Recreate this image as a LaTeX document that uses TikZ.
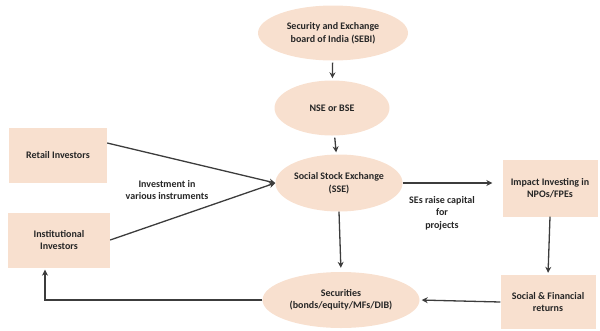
\documentclass[tikz,border=0pt]{standalone}
\usepackage{fontspec}
\setmainfont{Carlito}
\usepackage{tikz}
\usetikzlibrary{shapes,arrows.meta,positioning,calc}
\definecolor{peach}{RGB}{248,224,207}
\definecolor{linegray}{RGB}{60,60,60}

\begin{document}
\begin{tikzpicture}[
    x=1pt, y=-1pt,
    every node/.style = {font=\fontsize{10}{12.5}\selectfont\bfseries, text=black!85, align=center},
    oval/.style = {ellipse, fill=peach, inner sep=0pt},
    panel/.style = {rectangle, fill=peach, inner sep=0pt},
    link/.style = {draw=linegray, line width=1.3pt, -{Stealth[length=6pt,width=6pt]}}
  ]
  \useasboundingbox (0,0) rectangle (600,330);
  \node[oval, minimum width=150, minimum height=55] (sebi) at (333,33) {Security and Exchange\\board of India (SEBI)};
  \node[oval, minimum width=115, minimum height=55] (nse) at (332,108) {NSE or BSE};
  \node[oval, minimum width=124, minimum height=57] (sse) at (339,183) {Social Stock Exchange\\(SSE)};
  \node[oval, minimum width=157, minimum height=56] (sec) at (341,300) {Securities\\(bonds/equity/MFs/DIB)};
  \node[panel, minimum width=98, minimum height=55] (retail) at (58,155) {Retail Investors};
  \node[panel, minimum width=102, minimum height=55] (inst) at (59,240) {Institutional\\Investors};
  \node[panel, minimum width=95, minimum height=57] (impact) at (550,188) {Impact Investing in\\NPOs/FPEs};
  \node[panel, minimum width=95, minimum height=54] (returns) at (548,302) {Social \& Financial\\returns};
  \node[draw=none] (invest) at (167,190) {Investment in\\various instruments};
  \node[draw=none] (raise) at (442,213) {SEs raise capital\\for\\projects};
  % arrows
  \draw[link, shorten <=2pt, shorten >=2pt] (sebi) -- (nse);
  \draw[link, shorten <=2pt, shorten >=2pt] (nse) -- (sse);
  \draw[link] ([yshift=12pt]retail.east) -- (sse.west);
  \draw[link] (inst.east) -- (sse.west);
  \draw[link, shorten >=10pt] (sse.east) -- (sse.east -| impact.west);
  \draw[link, shorten >=2pt] (impact.south) -- (returns.north);
  \draw[link, shorten >=4pt] (sse.south) -- (sec.north);
  \draw[link, shorten >=2pt] (returns.west) -- (sec.east);
  \draw[link, shorten >=2pt] (sec.west) -| ([xshift=-14pt]inst.south);
\end{tikzpicture}
\end{document}
